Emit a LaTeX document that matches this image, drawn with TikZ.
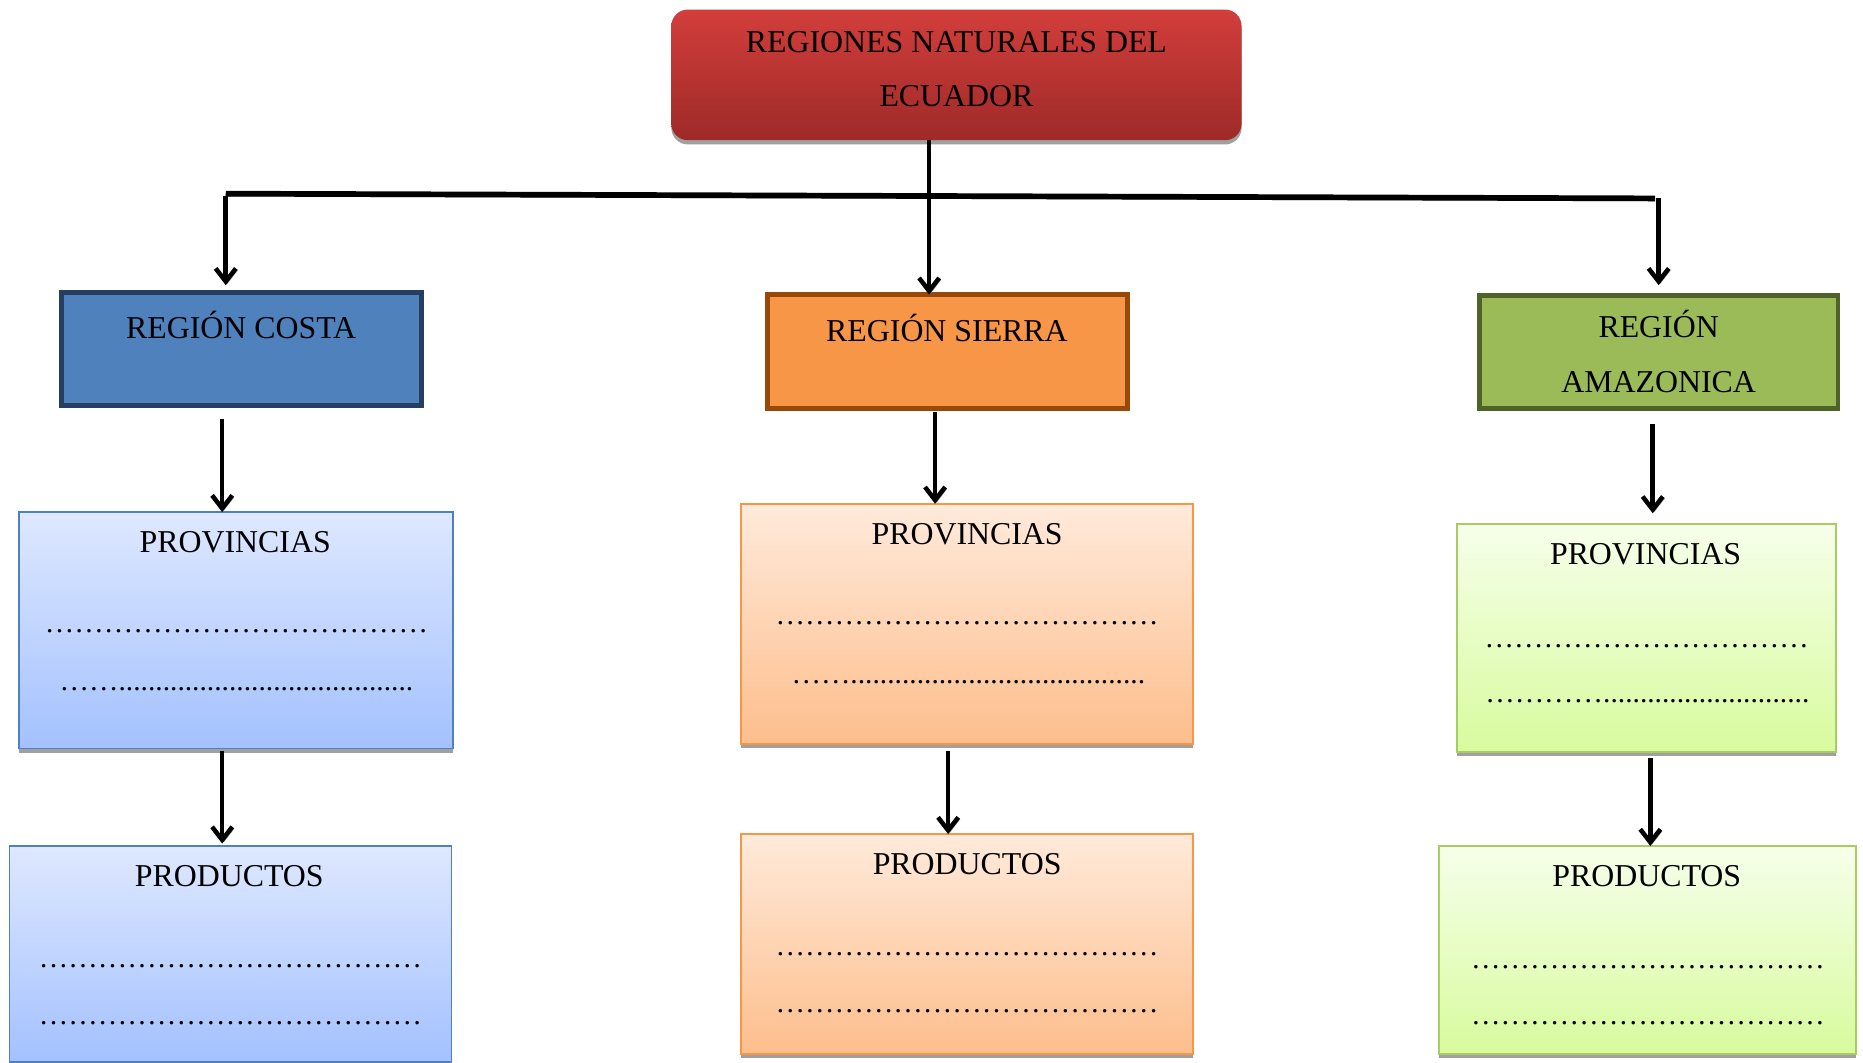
\documentclass[tikz,border=0pt]{standalone}
\usepackage{fontspec}
\setmainfont{Liberation Serif}
\usetikzlibrary{arrows.meta}
\definecolor{topA}{RGB}{210,62,59}
\definecolor{topB}{RGB}{158,42,40}
\definecolor{costaF}{RGB}{79,129,189}
\definecolor{costaD}{RGB}{36,63,96}
\definecolor{sierraF}{RGB}{247,150,70}
\definecolor{sierraD}{RGB}{152,72,7}
\definecolor{amazF}{RGB}{155,187,89}
\definecolor{amazD}{RGB}{79,98,40}
\definecolor{blueA}{RGB}{222,232,255}
\definecolor{blueB}{RGB}{163,193,255}
\definecolor{blueL}{RGB}{79,129,189}
\definecolor{orA}{RGB}{255,234,219}
\definecolor{orB}{RGB}{253,190,140}
\definecolor{orL}{RGB}{247,150,70}
\definecolor{grA}{RGB}{246,255,234}
\definecolor{grB}{RGB}{216,251,158}
\definecolor{grL}{RGB}{168,204,98}
\definecolor{shad}{RGB}{160,160,160}
\begin{document}
\begin{tikzpicture}[x=0.5pt,y=-0.5pt,
  font=\fontsize{13.4}{16}\selectfont,
  box/.style={rectangle, inner sep=0pt, outer sep=0pt},
  regbox/.style={box, line width=2pt},
  lightbox/.style={box, line width=0.8pt, preaction={fill=shad, transform canvas={yshift=-1.8pt}}},
  txt/.style={anchor=base, inner sep=0pt},
  dots/.style={anchor=base, inner sep=0pt, font=\fontsize{12.4}{15}\selectfont},
  arr/.style={line width=1.9pt, -{Straight Barb[length=5.5pt,width=8.5pt]},
    preaction={draw=shad, transform canvas={shift={(0.7pt,-0.7pt)}}}},
  bar/.style={line width=2.4pt, preaction={draw=shad, transform canvas={yshift=-1pt}}}
]
\useasboundingbox (0,0) rectangle (1568,894);

% title
\node[box, rounded corners=7pt, minimum width=240pt, minimum height=55pt,
  top color=topA, bottom color=topB,
  preaction={fill=shad, rounded corners=7pt, transform canvas={yshift=-1.8pt}}] (top) at (805,63) {};
\node[txt] (t1) at (805,44) {REGIONES NATURALES DEL};
\node[txt] (t2) at (805,90) {ECUADOR};

% regions
\node[regbox, fill=costaF, draw=costaD, minimum width=151.5pt, minimum height=47.5pt] (costa) at (203.5,293.5) {};
\node[txt] (tc) at (203,285) {REGIÓN COSTA};
\node[regbox, fill=sierraF, draw=sierraD, minimum width=151.5pt, minimum height=48pt] (sierra) at (797.5,296) {};
\node[txt] (ts) at (797,287) {REGIÓN SIERRA};
\node[regbox, fill=amazF, draw=amazD, minimum width=151pt, minimum height=47.5pt] (amaz) at (1396,296.5) {};
\node[txt] (ta1) at (1396,284) {REGIÓN};
\node[txt] (ta2) at (1396,330) {AMAZONICA};

% provincias boxes
\node[lightbox, top color=blueA, bottom color=blueB, draw=blueL, minimum width=182.5pt, minimum height=99.5pt] (provc) at (198.5,530.5) {};
\node[txt] (tpc) at (198,465) {PROVINCIAS};
\node[dots] (dpc1) at (199,532) {…………………………………};
\node[dots] (dpc2) at (199,581) {……........................................};

\node[lightbox, top color=orA, bottom color=orB, draw=orL, minimum width=190pt, minimum height=101pt] (provs) at (814,525) {};
\node[txt] (tps) at (814,458) {PROVINCIAS};
\node[dots] (dps1) at (814,526) {…………………………………};
\node[dots] (dps2) at (815,575) {……........................................};

\node[lightbox, top color=grA, bottom color=grB, draw=grL, minimum width=159.5pt, minimum height=96pt] (prova) at (1385.5,537) {};
\node[txt] (tpa) at (1385,475) {PROVINCIAS};
\node[dots] (dpa1) at (1386,545) {……………………………};
\node[dots] (dpa2) at (1386.5,591) {…………............................};

% productos boxes
\node[lightbox, top color=blueA, bottom color=blueB, draw=blueL, minimum width=186pt, minimum height=91pt] (prodc) at (194,803) {};
\node[txt] (tqc) at (193,746) {PRODUCTOS};
\node[dots] (dqc1) at (194,814) {…………………………………};
\node[dots] (dqc2) at (194,862) {…………………………………};

\node[lightbox, top color=orA, bottom color=orB, draw=orL, minimum width=190pt, minimum height=92.5pt] (prods) at (814,794.5) {};
\node[txt] (tqs) at (814,736) {PRODUCTOS};
\node[dots] (dqs1) at (814,804) {…………………………………};
\node[dots] (dqs2) at (814,852) {…………………………………};

\node[lightbox, top color=grA, bottom color=grB, draw=grL, minimum width=175.5pt, minimum height=87.5pt] (proda) at (1386.5,799.5) {};
\node[txt] (tqa) at (1386,746) {PRODUCTOS};
\node[dots] (dqa1) at (1387,815) {………………………………};
\node[dots] (dqa2) at (1387,862) {………………………………};

% connector coordinates
\coordinate (hl) at (190,163);
\coordinate (hr) at (1393,167);
\coordinate (xl) at (190,165);
\coordinate (xr) at (1396,167);
\coordinate (xm) at (782,0);
\coordinate (x1) at (187,0);
\coordinate (x2) at (787,0);
\coordinate (x3) at (1391,0);
\coordinate (x4) at (798,0);
\coordinate (x5) at (1389,0);

% connectors
\draw[bar] (hl) -- (hr);
\draw[arr] (top.south -| xm) -- (sierra.north -| xm);
\draw[arr, shorten >=3pt] (xl) -- (costa.north -| xl);
\draw[arr, shorten >=4.5pt] (xr) -- (amaz.north -| xr);
\draw[arr, shorten <=6pt] (costa.south -| x1) -- (provc.north -| x1);
\draw[arr, shorten <=1pt, shorten >=1pt] (provc.south -| x1) -- (prodc.north -| x1);
\draw[arr, shorten <=1.5pt] (sierra.south -| x2) -- (provs.north -| x2);
\draw[arr, shorten <=3pt] (provs.south -| x4) -- (prods.north -| x4);
\draw[arr, shorten <=6.5pt, shorten >=4.5pt] (amaz.south -| x3) -- (prova.north -| x3);
\draw[arr, shorten <=2.5pt] (prova.south -| x5) -- (proda.north -| x5);
\end{tikzpicture}
\end{document}
